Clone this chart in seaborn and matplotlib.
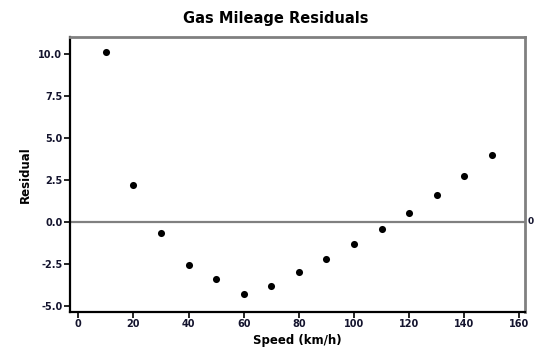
import matplotlib
matplotlib.use("Agg")
import matplotlib.pyplot as plt
import seaborn as sns
import pandas as pd

speed = [10, 20, 30, 40, 50, 60, 70, 80, 90, 100, 110, 120, 130, 140, 150]
residual = [10.1, 2.2, -0.65, -2.55, -3.4, -4.3, -3.8, -3.0, -2.2, -1.35, -0.45, 0.55, 1.6, 2.7, 3.95]
x_ticks = [0, 20, 40, 60, 80, 100, 120, 140, 160]
y_ticks = [-5.0, -2.5, 0.0, 2.5, 5.0, 7.5, 10.0]

df = pd.DataFrame({"Speed (km/h)": speed, "Residual": residual})

sns.set_style("white")
plt.rcParams["font.family"] = ["DejaVu Sans"]
plt.rcParams["text.color"] = "black"
plt.rcParams["axes.labelcolor"] = "black"

fig = plt.figure(figsize=(5.35, 3.54), dpi=100)
ax = fig.add_axes([70/535, 1-311.7/354, 455/535, 275/354])

ax.axhline(0, color="#808080", lw=1.6, zorder=1)
sns.scatterplot(data=df, x="Speed (km/h)", y="Residual", ax=ax, color="black",
                s=26, edgecolor="black", linewidth=0, zorder=3)

ax.set_xlim(-3.0, 162.0)
ax.set_ylim(-5.36, 11.03)
ax.set_xticks(x_ticks)
ax.set_xticklabels([str(t) for t in x_ticks])
ax.set_yticks(y_ticks)
ax.set_yticklabels([f"{t:.1f}" for t in y_ticks])

ax.tick_params(axis="both", which="major", direction="out", length=4, width=1.2,
               labelsize=7, colors="black", pad=1.5, bottom=True, left=True)
for lab in ax.get_xticklabels() + ax.get_yticklabels():
    lab.set_fontweight("bold")
    lab.set_color("#14142e")

for side in ["left", "bottom"]:
    ax.spines[side].set_color("black")
    ax.spines[side].set_linewidth(1.6)
for side in ["top", "right"]:
    ax.spines[side].set_color("#808080")
    ax.spines[side].set_linewidth(2.0)

ax.set_xlabel("Speed (km/h)", fontsize=8.5, fontweight="bold", labelpad=3, color="black")
ax.set_ylabel("Residual", fontsize=8.5, fontweight="bold", labelpad=5, color="black")

fig.text(276/535, 1-18/354, "Gas Mileage Residuals", ha="center", va="center",
         fontsize=10.5, fontweight="bold", color="black")
fig.text(528/535, 1-222/354, "0", ha="left", va="center", fontsize=6.5,
         fontweight="bold", color="#14142e")

fig.savefig("out.png", dpi=100)
